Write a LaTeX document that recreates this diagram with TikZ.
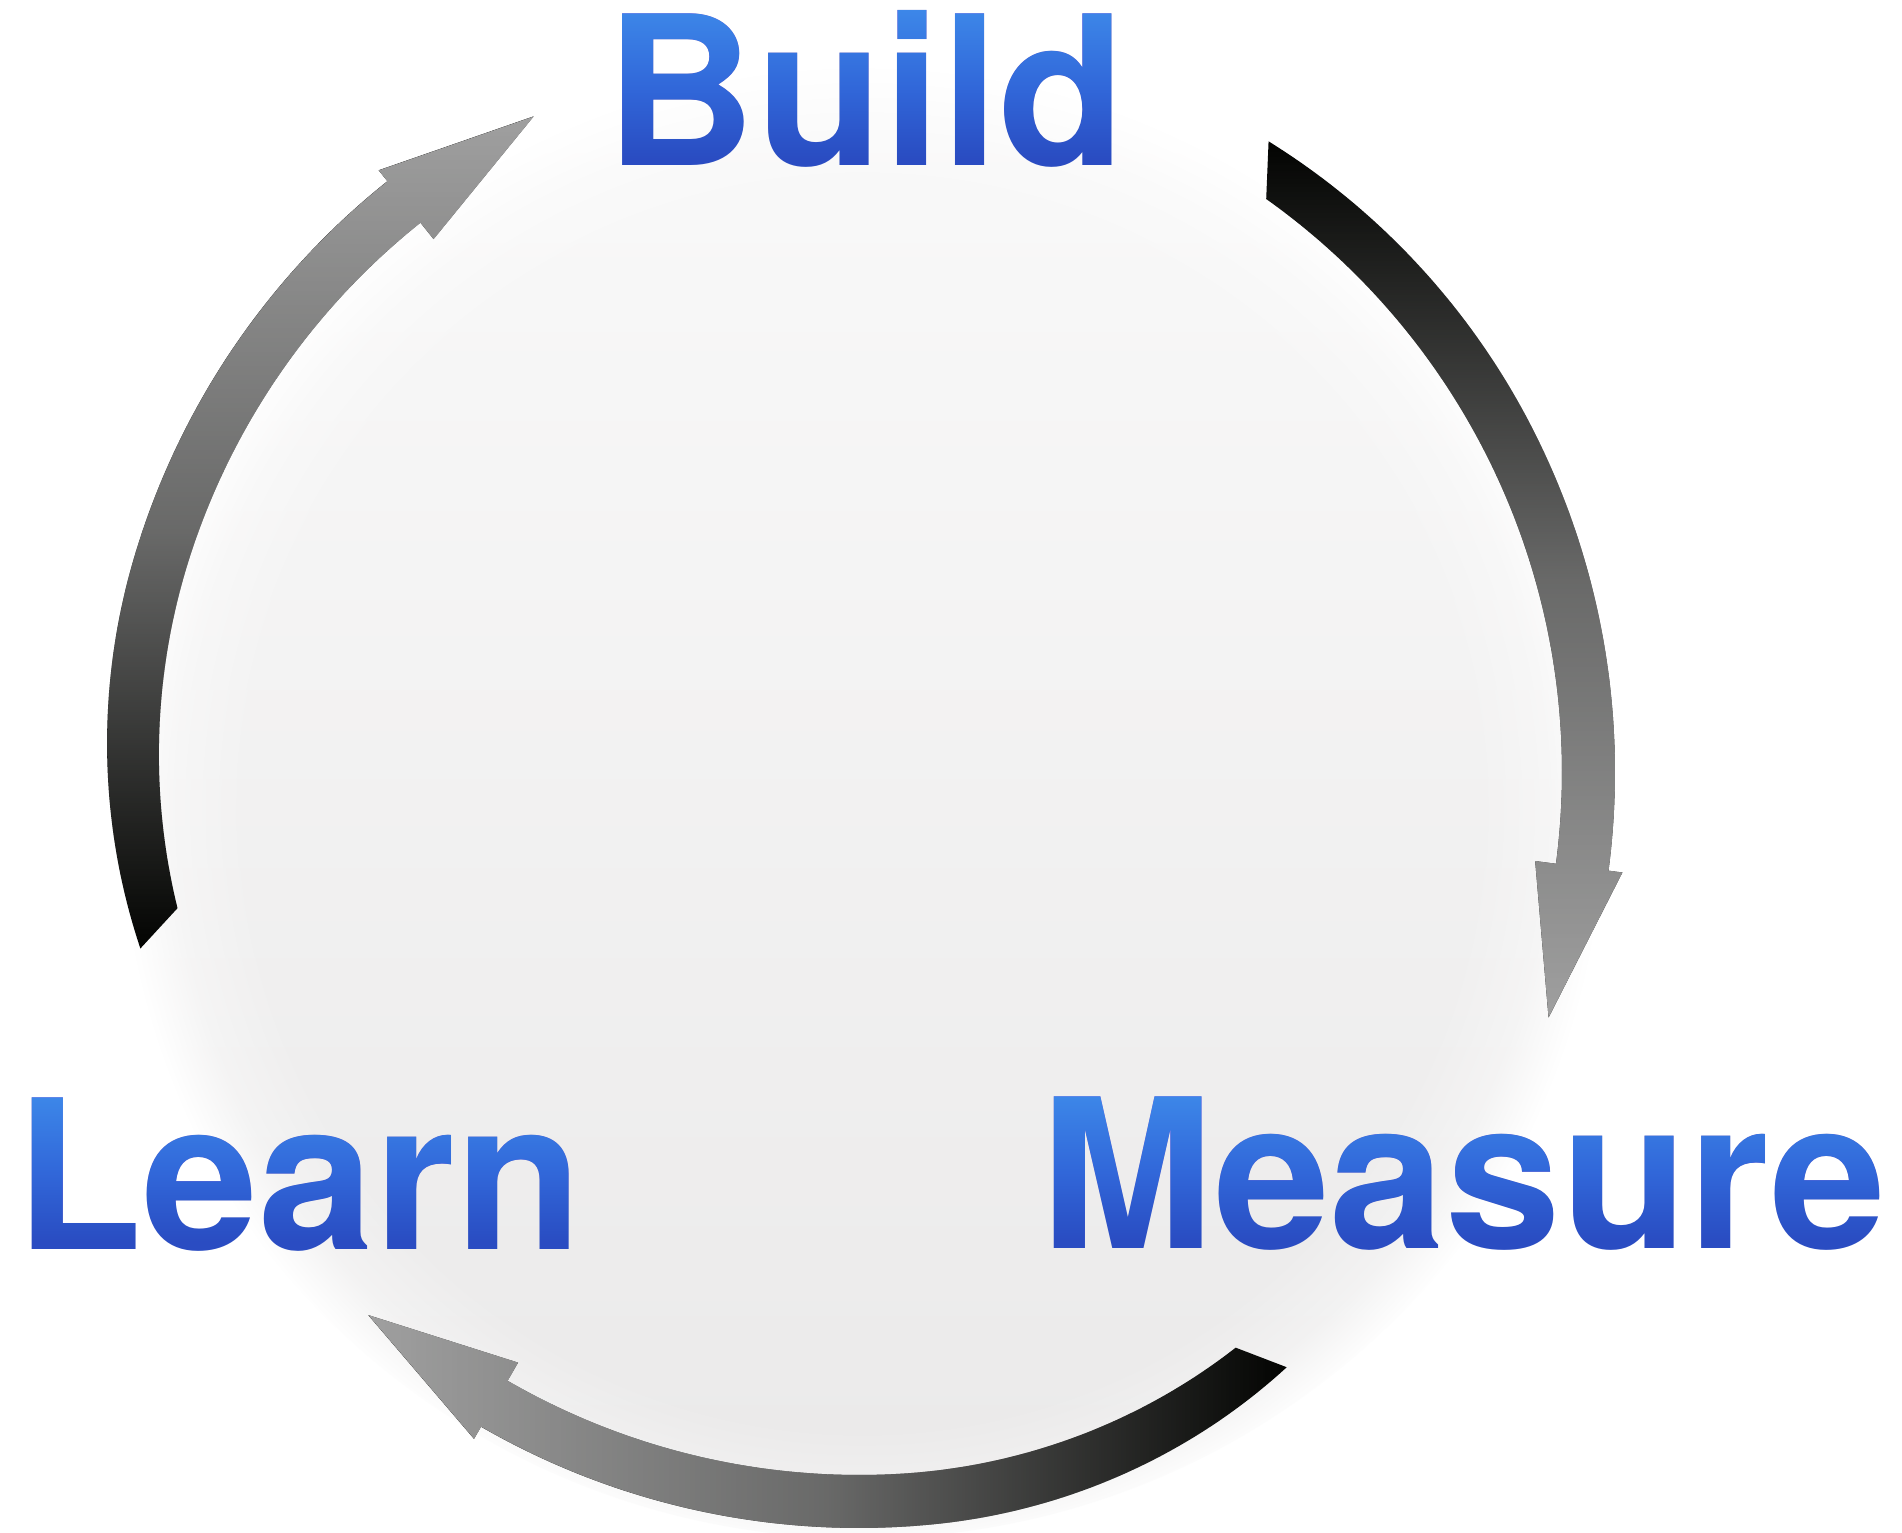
\documentclass[tikz,border=0pt]{standalone}
\usepackage{fontspec}
\setmainfont{TeX Gyre Heros}
\usetikzlibrary{fadings}
\definecolor{bluefill}{HTML}{2A4CC2}
\definecolor{bluetop}{HTML}{3D88E9}
\definecolor{bluemid}{HTML}{3167D9}
\definecolor{bluebot}{HTML}{2848BE}
\definecolor{glowtop}{HTML}{FAFAFA}
\definecolor{glowbot}{HTML}{EAE9E9}
\definecolor{arrowbase}{HTML}{030402}
\definecolor{arrowend}{HTML}{A0A0A0}
\pgfdeclareradialshading{glowfadeshade}{\pgfpoint{0bp}{-2bp}}{color(0bp)=(pgftransparent!0); color(20bp)=(pgftransparent!0); color(22.5bp)=(pgftransparent!35); color(24.3bp)=(pgftransparent!100); color(50bp)=(pgftransparent!100)}
\pgfdeclarefading{glowfade}{\pgfuseshading{glowfadeshade}}
% gray part of each arrow: opaque at the head, transparent at the tail
\pgfdeclareverticalshading{fadedownshade}{100bp}{color(0bp)=(pgftransparent!0); color(25bp)=(pgftransparent!0); color(50bp)=(pgftransparent!35); color(75bp)=(pgftransparent!100); color(100bp)=(pgftransparent!100)}
\pgfdeclarefading{fadedown}{\pgfuseshading{fadedownshade}}
\pgfdeclareverticalshading{fadeupshade}{100bp}{color(0bp)=(pgftransparent!100); color(25bp)=(pgftransparent!100); color(50bp)=(pgftransparent!35); color(75bp)=(pgftransparent!0); color(100bp)=(pgftransparent!0)}
\pgfdeclarefading{fadeup}{\pgfuseshading{fadeupshade}}
\pgfdeclarehorizontalshading{fadeleftshade}{100bp}{color(0bp)=(pgftransparent!0); color(25bp)=(pgftransparent!0); color(50bp)=(pgftransparent!35); color(75bp)=(pgftransparent!100); color(100bp)=(pgftransparent!100)}
\pgfdeclarefading{fadeleft}{\pgfuseshading{fadeleftshade}}
% #1 tail outer angle, #2 tail inner angle, #3 shaft end angle, #4 tip angle,
% #5/#6 radius deficit at the tail (outer/inner)
\newcommand\cycpath[6]{%
  plot[domain=#1:#3,samples=90] ({859+(756-#5*max(0,1-(\x-(#1))/30)^2)*cos(\x)},{772+(756-#5*max(0,1-(\x-(#1))/30)^2)*sin(\x)})
   -- ({859+770*cos(#3)},{772+770*sin(#3)})
   -- ({859+732*cos(#4)},{772+732*sin(#4)})
   -- ({859+682*cos(#3)},{772+682*sin(#3)})
   -- plot[domain=#3:#2,samples=90] ({859+(703-#6*max(0,1-(\x-(#2))/30)^2)*cos(\x)},{772+(703-#6*max(0,1-(\x-(#2))/30)^2)*sin(\x)})
   -- cycle}
\newcommand\cycarrow[7]{%
  \fill[arrowbase] \cycpath{#1}{#2}{#3}{#4}{#6}{#7};
  \fill[arrowend, path fading=#5] \cycpath{#1}{#2}{#3}{#4}{#6}{#7};}
\begin{document}
\begin{tikzpicture}[x=0.01cm,y=-0.01cm,
  word/.style={font=\fontsize{59.2pt}{70pt}\selectfont\bfseries, text=bluefill, inner sep=0pt, anchor=base west},
  wordshade/.style={top color=bluetop, bottom color=bluebot, middle color=bluemid}]
\useasboundingbox (0,0) rectangle (1902,1533);
\fill[white] (0,0) rectangle (1902,1533);
\shade[top color=glowtop, bottom color=glowbot, path fading=glowfade] (862,778) circle[radius=760];
% arrows: Build -> Measure, Measure -> Learn, Learn -> Build
\cycarrow{-57}{-54.6}{7.5}{19.6}{fadedown}{4}{0}
\cycarrow{54.3}{56.8}{120}{132.1}{fadeleft}{23}{15}
\cycarrow{166.2}{168.7}{231.4}{243.6}{fadeup}{16}{8}
% words
\node[word] (build) at (605,166) {Build};
\node[word] (learn) at (15,1249) {Learn};
\node[word] (measure) at (1040,1248) {Measure};
\begin{scope}[blend mode=lighten]
  \shade[wordshade] ([yshift=1pt]build.north west) rectangle ([yshift=-1pt]build.base east);
  \shade[wordshade] ([yshift=1pt]learn.north west) rectangle ([yshift=-1pt]learn.base east);
  \shade[wordshade] ([yshift=1pt]measure.north west) rectangle ([yshift=-1pt]measure.base east);
\end{scope}
\end{tikzpicture}
\end{document}
